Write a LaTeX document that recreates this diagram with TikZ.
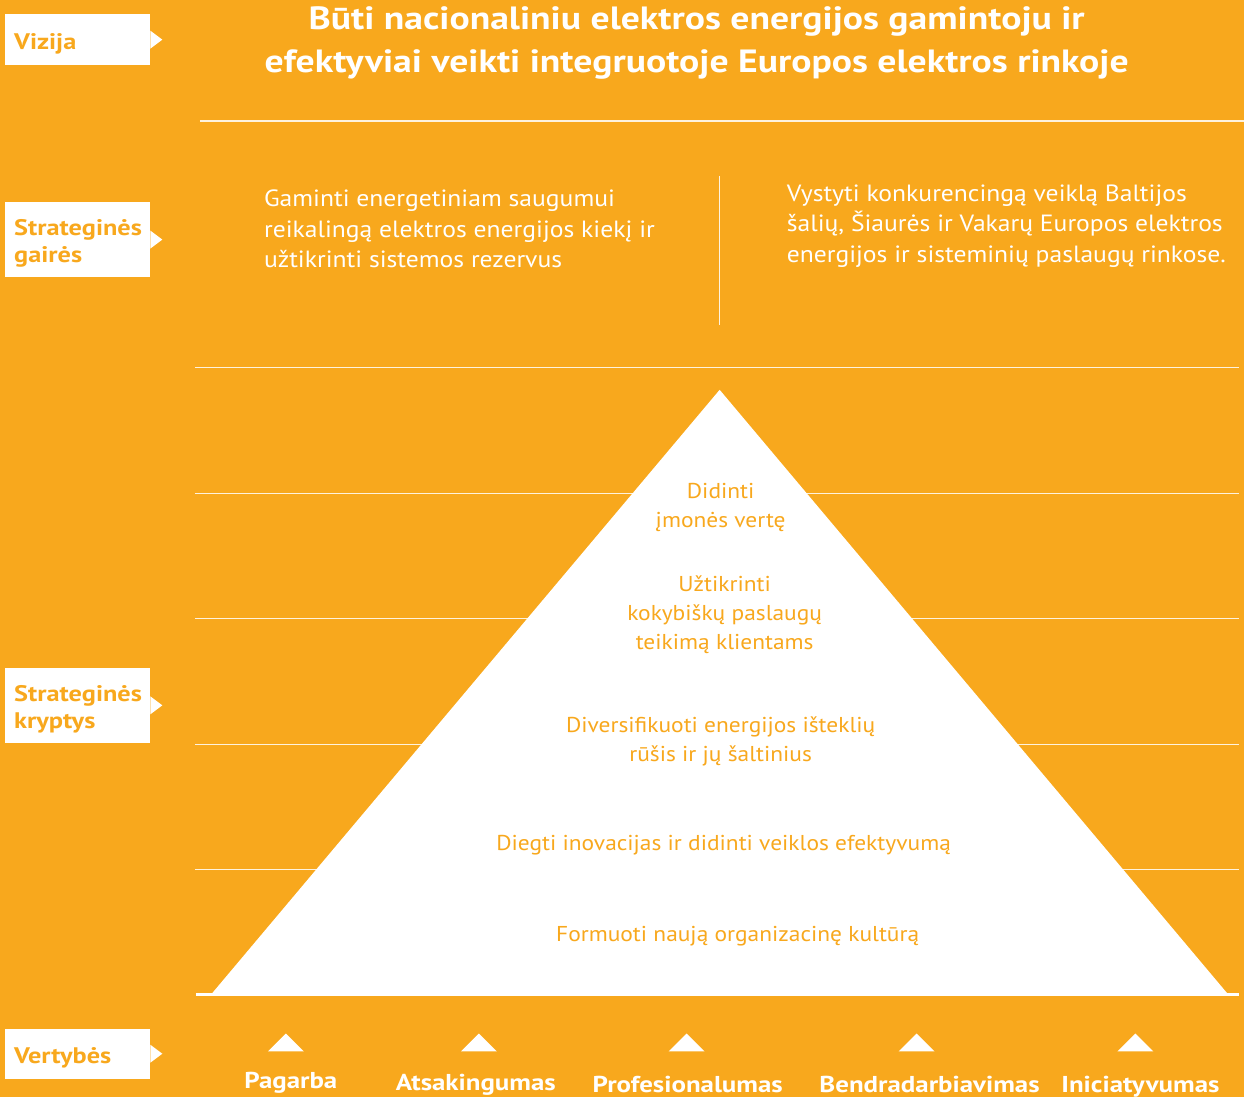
\documentclass[tikz,border=0pt]{standalone}
\usepackage{fontspec}
\setmainfont{PT Sans}[FakeStretch=1.09]
\newfontfamily\lerbold{PT Sans}[FakeStretch=1.17]
\usetikzlibrary{positioning}
\definecolor{lerorange}{HTML}{F8A81D}

\begin{document}
\begin{tikzpicture}
    [
        x=1pt, y=-1pt,
        tag/.style={rectangle, fill=white, anchor=north west, minimum width=145pt},
        tagtext/.style={inner sep=0pt, yshift=-4pt, align=left, text=lerorange, font=\fontsize{22.5}{27}\lerbold\bfseries},
        rule/.style={draw=white!85!lerorange, line width=1.2pt},
        title/.style={text=white, align=center, font=\fontsize{32.2}{44}\lerbold\bfseries},
        guide/.style={text=white, anchor=west, inner sep=0pt, align=left, font=\fontsize{23.5}{30.5}\selectfont},
        aim/.style={text=lerorange, align=center, font=\fontsize{21.5}{29}\selectfont},
        value/.style={text=white, font=\fontsize{23}{26}\lerbold\bfseries},
    ]
    \fill[lerorange] (0,0) rectangle (1245,1098);

    \node (vizija) at (5,14) [tag, minimum height=51pt] {};
    \node (gaires) at (5,202) [tag, minimum height=75pt] {};
    \node (kryptys) at (5,668) [tag, minimum height=75pt] {};
    \node (vertybes) at (5,1029) [tag, minimum height=50pt] {};
    \foreach \t in {vizija, gaires, kryptys, vertybes}
        \fill[white] (\t.east) ++(0,-9) -- ++(12,9) -- ++(-12,9) -- cycle;
    \node (vizija text) [tagtext, right=9pt of vizija.west] {Vizija};
    \node (gaires text) [tagtext, right=9pt of gaires.west] {Strateginės\\gairės};
    \node (kryptys text) [tagtext, right=9pt of kryptys.west] {Strateginės\\kryptys};
    \node (vertybes text) [tagtext, right=9pt of vertybes.west] {Vertybės};

    \node (vision) at (697,43) [title] {Būti nacionaliniu elektros energijos gamintoju ir\\efektyviai veikti integruotoje Europos elektros rinkoje};

    \draw[rule] (200,121) -- (1245,121);
    \foreach \y in {368,494,619,745,870}
        \draw[rule] (195,\y) -- (1240,\y);
    \draw[rule] (720,176) -- (720,325);

    \node (guide left) at (264,229) [guide] {Gaminti energetiniam saugumui\\reikalingą elektros energijos kiekį ir\\užtikrinti sistemos rezervus};
    \node (guide right) at (787,226) [guide] {Vystyti konkurencingą veiklą Baltijos\\šalių, Šiaurės ir Vakarų Europos elektros\\energijos ir sisteminių paslaugų rinkose.};

    \coordinate (apex) at (720,390);
    \fill[white] (apex) -- (1228,994) -- (212,994) -- cycle;
    \draw[white, line width=3pt] (196,995) -- (1240,995);

    \node (vertes) at (721,508) [aim] {Didinti\\įmonės vertę};
    \node (klientams) at (725,615) [aim] {Užtikrinti\\kokybiškų paslaugų\\teikimą klientams};
    \node (istekliai) at (721,742) [aim] {Diversifikuoti energijos išteklių\\rūšis ir jų šaltinius};
    \node (inovacijos) at (724,846) [aim] {Diegti inovacijas ir didinti veiklos efektyvumą};
    \node (kultura) at (738,937) [aim] {Formuoti naują organizacinę kultūrą};

    \foreach \x in {286,479,687,917,1136}
        \fill[white] (\x,1034) -- ++(18,18) -- ++(-36,0) -- cycle;
    \node (pagarba) at (291,1083) [value] {Pagarba};
    \node (atsakingumas) at (476,1085) [value] {Atsakingumas};
    \node (profesionalumas) at (688,1085) [value] {Profesionalumas};
    \node (bendradarbiavimas) at (930,1085) [value] {Bendradarbiavimas};
    \node (iniciatyvumas) at (1141,1087) [value] {Iniciatyvumas};
\end{tikzpicture}
\end{document}
